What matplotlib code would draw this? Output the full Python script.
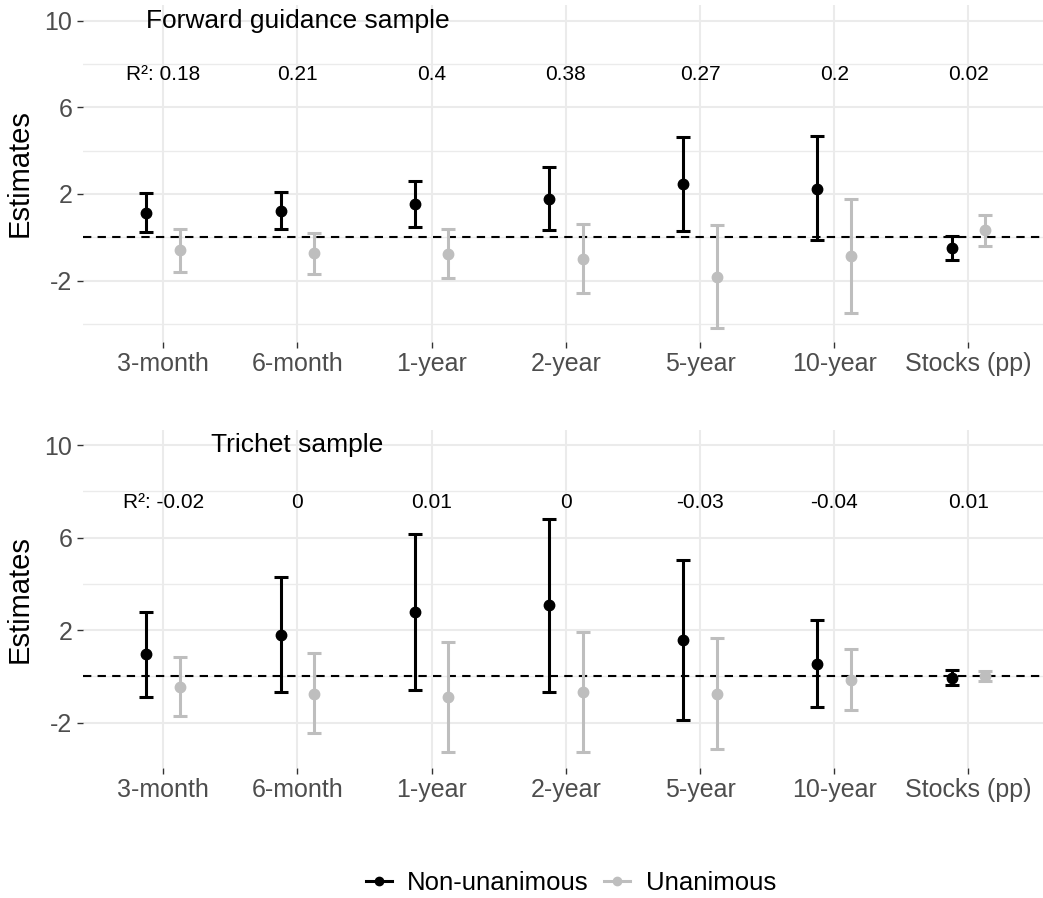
import numpy as np
import matplotlib
matplotlib.use("Agg")
import matplotlib.pyplot as plt
from matplotlib.lines import Line2D

plt.rcParams['font.family'] = ['Liberation Sans', 'DejaVu Sans']
plt.rcParams['axes.unicode_minus'] = False

categories = ["3-month", "6-month", "1-year", "2-year", "5-year", "10-year", "Stocks (pp)"]

# Forward guidance sample
fg_non_est = [1.14, 1.23, 1.54, 1.77, 2.47, 2.24, -0.49]
fg_non_lo = [0.23, 0.37, 0.46, 0.34, 0.30, -0.14, -1.03]
fg_non_hi = [2.06, 2.10, 2.58, 3.23, 4.64, 4.67, 0.06]
fg_una_est = [-0.59, -0.74, -0.77, -0.99, -1.82, -0.86, 0.32]
fg_una_lo = [-1.62, -1.71, -1.89, -2.57, -4.20, -3.49, -0.39]
fg_una_hi = [0.38, 0.21, 0.40, 0.60, 0.57, 1.78, 1.03]
fg_r2 = ["0.18", "0.21", "0.4", "0.38", "0.27", "0.2", "0.02"]

# Trichet sample
tr_non_est = [0.95, 1.79, 2.77, 3.07, 1.57, 0.55, -0.06]
tr_non_lo = [-0.88, -0.69, -0.59, -0.68, -1.89, -1.33, -0.39]
tr_non_hi = [2.79, 4.31, 6.17, 6.80, 5.04, 2.43, 0.26]
tr_una_est = [-0.45, -0.74, -0.91, -0.69, -0.74, -0.16, 0.01]
tr_una_lo = [-1.72, -2.44, -3.26, -3.29, -3.14, -1.47, -0.22]
tr_una_hi = [0.83, 0.99, 1.48, 1.92, 1.67, 1.17, 0.24]
tr_r2 = ["-0.02", "0", "0.01", "0", "-0.03", "-0.04", "0.01"]

W, H = 1043, 898
fig = plt.figure(figsize=(W / 100, H / 100), dpi=100)

GREY = "#BEBEBE"
x = np.arange(1, len(categories) + 1)


def panel(rect, ylim, title, non, una, r2):
    ax = fig.add_axes(rect)
    for s in ax.spines.values():
        s.set_visible(False)
    ax.set_xlim(0.4, 0.4 + (W - 82.7) / 134.2)
    ax.set_ylim(*ylim)
    ax.set_yticks([-2, 2, 6, 10])
    ax.set_yticks([m for m in [-4, 0, 4, 8] if m > ylim[0]], minor=True)
    ax.set_xticks(x)
    ax.set_xticklabels(categories)
    ax.grid(True, which='major', color='#EBEBEB', lw=1.5)
    ax.grid(True, which='minor', axis='y', color='#EBEBEB', lw=1.0)
    ax.set_axisbelow(True)
    ax.tick_params(which='major', length=4.5, width=1.0, color='#333333',
                   labelcolor='#4D4D4D', labelsize=18, pad=3)
    ax.tick_params(which='minor', length=0)
    ax.set_ylabel("Estimates", fontsize=21, color='black', labelpad=8)
    ax.axhline(0, color='black', lw=1.5, ls=(0, (4, 3)), zorder=1)
    for (est, lo, hi), off, col in [(non, -0.125, 'black'), (una, 0.125, GREY)]:
        est = np.array(est)
        yerr = [est - np.array(lo), np.array(hi) - est]
        ax.errorbar(x + off, est, yerr=yerr, fmt='o', color=col, ms=7.5,
                    elinewidth=2.2, capsize=4.8, capthick=2.2, zorder=3)
    ax.text(2, 10, title, ha='center', va='center', fontsize=19)
    for i, lab in enumerate(r2):
        txt = ("R²: " + lab) if i == 0 else lab
        ax.text(x[i], 7.5, txt, ha='center', va='center', fontsize=15)
    return ax


left = 82.7 / W
width = 1 - left
panel([left, 1 - 341.7 / H, width, (341.7 - 5) / H], (-4.82, 10.72),
      "Forward guidance sample",
      (fg_non_est, fg_non_lo, fg_non_hi), (fg_una_est, fg_una_lo, fg_una_hi), fg_r2)
panel([left, 1 - 768 / H, width, (768 - 430) / H], (-3.96, 10.65),
      "Trichet sample",
      (tr_non_est, tr_non_lo, tr_non_hi), (tr_una_est, tr_una_lo, tr_una_hi), tr_r2)

handles = [Line2D([], [], color='black', lw=2.2, marker='o', ms=6),
           Line2D([], [], color=GREY, lw=2.2, marker='o', ms=6)]
fig.legend(handles, ["Non-unanimous", "Unanimous"], loc='center',
           bbox_to_anchor=(571 / W, 1 - 882.7 / H), ncol=2, frameon=False,
           fontsize=18.5, handlelength=1.0, handletextpad=0.6, columnspacing=0.6)

fig.savefig("out.png", dpi=100)
